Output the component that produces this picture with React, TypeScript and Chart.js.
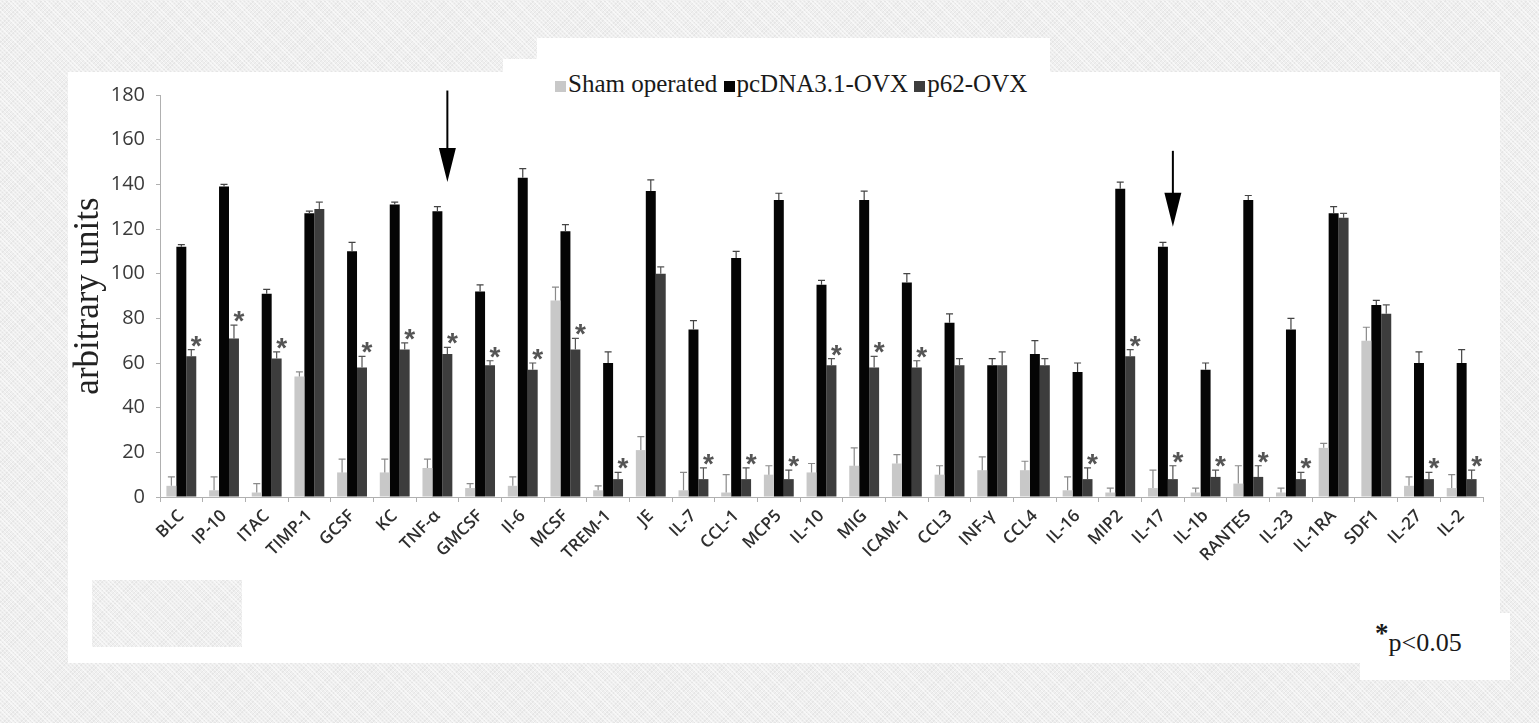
import React, { useEffect, useRef } from "react";
import { Chart, registerables } from "chart.js";

Chart.register(...registerables);

const categories = [
  "BLC", "IP-10", "ITAC", "TIMP-1", "GCSF", "KC", "TNF-α", "GMCSF", "Il-6", "MCSF", "TREM-1",
  "JE", "IL-7", "CCL-1", "MCP5", "IL-10", "MIG", "ICAM-1", "CCL3", "INF-γ", "CCL4", "IL-16",
  "MIP2", "IL-17", "IL-1b", "RANTES", "IL-23", "IL-1RA", "SDF1", "IL-27", "IL-2",
];

const shamValues = [5, 3, 2, 54, 11, 11, 13, 4, 5, 88, 3, 21, 3, 2, 10, 11, 14, 15, 10, 12, 12, 3, 2, 4, 2, 6, 2, 22, 70, 5, 4];
const pcdnaValues = [112, 139, 91, 127, 110, 131, 128, 92, 143, 119, 60, 137, 75, 107, 133, 95, 133, 96, 78, 59, 64, 56, 138, 112, 57, 133, 75, 127, 86, 60, 60];
const p62Values = [63, 71, 62, 129, 58, 66, 64, 59, 57, 66, 8, 100, 8, 8, 8, 59, 58, 58, 59, 59, 59, 8, 63, 8, 9, 9, 8, 125, 82, 8, 8];

const shamErrors = [4, 6, 4, 2, 6, 6, 4, 2, 4, 6, 2, 6, 8, 8, 4, 4, 8, 4, 4, 6, 4, 6, 2, 8, 2, 8, 2, 2, 6, 4, 6];
const pcdnaErrors = [1, 1, 2, 1, 4, 1, 2, 3, 4, 3, 5, 5, 4, 3, 3, 2, 4, 4, 4, 3, 6, 4, 3, 2, 3, 2, 5, 3, 2, 5, 6];
const p62Errors = [3, 6, 3, 3, 5, 3, 3, 2, 3, 5, 3, 3, 5, 5, 4, 3, 5, 3, 3, 6, 3, 5, 3, 6, 3, 5, 3, 2, 4, 3, 4];

const significant = [
  true, true, true, false, true, true, true, true, true, true, true,
  false, true, true, true, true, true, true, false, false, false, true,
  true, true, true, true, true, false, false, true, true,
];

const arrowCategories = ["TNF-α", "IL-17"];
const arrowTips = [141, 121];
const arrowTails = [182, 155];

const yTicks = [0, 20, 40, 60, 80, 100, 120, 140, 160, 180];

const errorPlugin = {
  id: "errorBarsAndMarks",
  afterDatasetsDraw(chart: any) {
    const ctx = chart.ctx;
    const y = chart.scales.y;
    const errs = [shamErrors, pcdnaErrors, p62Errors];
    const vals = [shamValues, pcdnaValues, p62Values];
    const capColors = ["#8a8a8a", "#444444", "#555555"];
    ctx.save();
    for (let d = 0; d < 3; d++) {
      const meta = chart.getDatasetMeta(d);
      meta.data.forEach((bar: any, i: number) => {
        const top = y.getPixelForValue(vals[d][i]);
        const et = y.getPixelForValue(vals[d][i] + errs[d][i]);
        ctx.strokeStyle = capColors[d];
        ctx.lineWidth = 1.2;
        ctx.beginPath();
        ctx.moveTo(bar.x, top);
        ctx.lineTo(bar.x, et);
        ctx.moveTo(bar.x - 3.5, et);
        ctx.lineTo(bar.x + 3.5, et);
        ctx.stroke();
      });
    }
    const meta2 = chart.getDatasetMeta(2);
    ctx.fillStyle = "#555555";
    ctx.font = "bold 28px 'Liberation Sans'";
    ctx.textAlign = "center";
    ctx.textBaseline = "alphabetic";
    meta2.data.forEach((bar: any, i: number) => {
      if (!significant[i]) return;
      const et = y.getPixelForValue(p62Values[i] + p62Errors[i]);
      ctx.fillText("*", bar.x + 5, et + 5);
    });
    ctx.strokeStyle = "#000";
    ctx.fillStyle = "#000";
    arrowCategories.forEach((c, k) => {
      const i = categories.indexOf(c);
      const bar = meta2.data[i];
      const x = bar.x;
      const tip = y.getPixelForValue(arrowTips[k]);
      const tail = y.getPixelForValue(arrowTails[k]);
      ctx.lineWidth = 2;
      ctx.beginPath();
      ctx.moveTo(x, tail);
      ctx.lineTo(x, tip - 30);
      ctx.stroke();
      ctx.beginPath();
      ctx.moveTo(x - 8.5, tip - 34);
      ctx.lineTo(x + 8.5, tip - 34);
      ctx.lineTo(x, tip);
      ctx.closePath();
      ctx.fill();
    });
    ctx.restore();
  },
};

export default function App() {
  const ref = useRef<HTMLCanvasElement>(null);
  useEffect(() => {
    if (!ref.current) return;
    const chart = new Chart(ref.current, {
      type: "bar",
      data: {
        labels: categories,
        datasets: [
          { label: "Sham operated", data: shamValues, backgroundColor: "#c8c8c8" },
          { label: "pcDNA3.1-OVX", data: pcdnaValues, backgroundColor: "#050505" },
          { label: "p62-OVX", data: p62Values, backgroundColor: "#3d3d3d" },
        ],
      },
      options: {
        animation: false,
        responsive: false,
        maintainAspectRatio: false,
        datasets: { bar: { categoryPercentage: 0.7, barPercentage: 1.0 } } as any,
        layout: { padding: { left: 68, top: 95, right: 56, bottom: 0 } },
        plugins: { legend: { display: false }, tooltip: { enabled: false } },
        scales: {
          x: {
            grid: { display: true, drawOnChartArea: false, drawTicks: true, tickLength: 5, color: "#b0b0b0", offset: true },
            border: { display: true, color: "#b0b0b0" },
            ticks: {
              minRotation: 45,
              maxRotation: 45,
              autoSkip: false,
              color: "#2e2e2e",
              font: { family: "'Open Sans'", size: 17, weight: 600 },
              padding: 4,
            },
            afterFit(scale: any) {
              scale.height = 226;
            },
          },
          y: {
            min: 0,
            max: 180,
            afterBuildTicks(scale: any) {
              scale.ticks = yTicks.map((v) => ({ value: v }));
            },
            grid: { display: true, drawOnChartArea: false, drawTicks: true, tickLength: 4, color: "#b0b0b0" },
            border: { display: true, color: "#b0b0b0" },
            ticks: {
              color: "#3a3a3a",
              font: { family: "'Open Sans'", size: 20 },
              padding: 11,
            },
            title: {
              display: true,
              text: "arbitrary units",
              color: "#222",
              font: { family: "'Liberation Serif'", size: 35 },
              padding: { top: 0, bottom: 0 },
            },
            afterFit(scale: any) {
              scale.width = 92;
            },
          },
        },
      },
      plugins: [errorPlugin],
    });
    return () => chart.destroy();
  }, []);

  const box = (l: number, t: number, w: number, h: number, bg: string): React.CSSProperties => ({
    position: "absolute",
    left: l,
    top: t,
    width: w,
    height: h,
    background: bg,
  });

  const pattern =
    "repeating-linear-gradient(45deg, rgba(255,255,255,0.55) 0px, rgba(255,255,255,0.55) 1px, transparent 1px, transparent 3px), repeating-linear-gradient(-45deg, rgba(220,220,220,0.5) 0px, rgba(220,220,220,0.5) 1px, transparent 1px, transparent 3px), #efefef";

  const marker = (bg: string): React.CSSProperties => ({
    display: "inline-block",
    width: 11,
    height: 11,
    background: bg,
    marginRight: 2,
    verticalAlign: "baseline",
  });

  return (
    <div style={{ position: "absolute", left: 0, top: 0, width: 1539, height: 723, background: pattern, overflow: "hidden" }}>
      <div style={box(68, 72, 1432, 591, "#ffffff")} />
      <div style={box(537, 38, 513, 34, "#ffffff")} />
      <div style={box(503, 59, 34, 13, "#ffffff")} />
      <div style={{ ...box(92, 580, 150, 67, pattern) }} />
      <div style={box(1360, 613, 150, 67, "#ffffff")} />
      <div
        style={{
          position: "absolute",
          left: 555,
          top: 70,
          fontFamily: "'Liberation Serif'",
          fontSize: 25,
          color: "#1a1a1a",
          whiteSpace: "nowrap",
        }}
      >
        <span style={marker("#c8c8c8")} />Sham operated <span style={marker("#050505")} />pcDNA3.1-OVX{" "}
        <span style={marker("#3d3d3d")} />p62-OVX
      </div>
      <div
        style={{
          position: "absolute",
          left: 1375,
          top: 627,
          fontFamily: "'Liberation Serif'",
          fontSize: 26,
          color: "#1a1a1a",
          whiteSpace: "nowrap",
        }}
      >
        <span style={{ fontSize: 27, fontWeight: "bold", position: "relative", top: -9 }}>*</span>p&lt;0.05
      </div>
      <canvas ref={ref} width={1539} height={723} style={{ position: "absolute", left: 0, top: 0 }} />
    </div>
  );
}
